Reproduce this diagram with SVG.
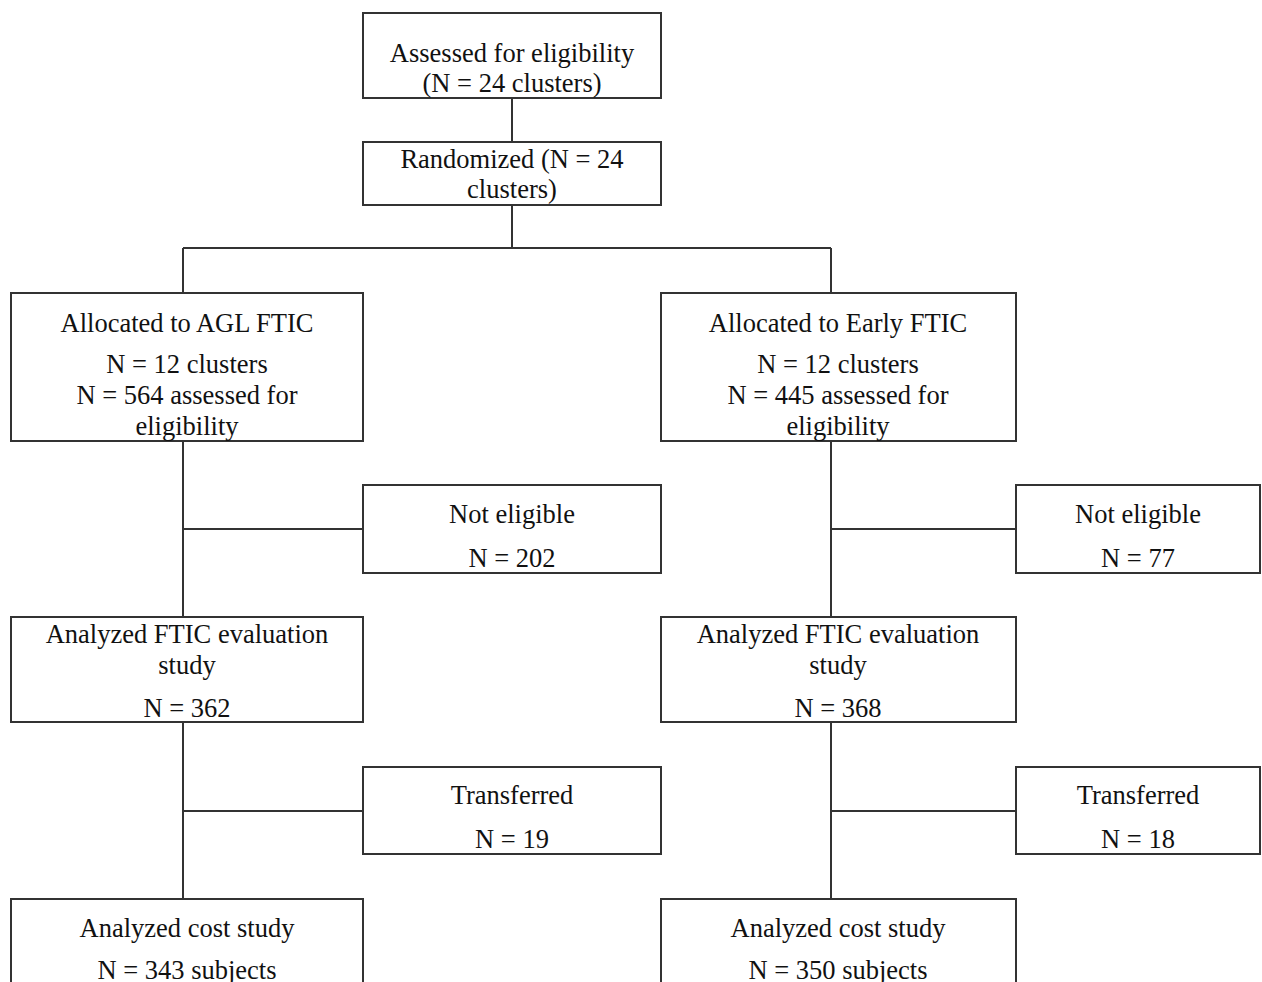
<svg xmlns="http://www.w3.org/2000/svg" width="1262" height="982" viewBox="0 0 1262 982">
<style>
.b{fill:#fff;stroke:#333;stroke-width:2}
.c{fill:none;stroke:#333;stroke-width:2}
text{font-family:"Liberation Serif","Times New Roman",serif;font-size:26.5px;fill:#111;text-anchor:middle}
</style>
<rect width="1262" height="982" fill="#fff"/>
<g id="connectors">
<path class="c" d="M512 98V142M512 205V248M183 248H831M183 248V293M831 248V293M183 441V899M183 529H363M831 441V899M831 529H1016M183 811H363M831 811H1016"/>
</g>
<g id="n1"><rect class="b" x="363" y="13" width="298" height="85"/><text x="512" y="62">Assessed for eligibility</text><text x="512" y="92">(N = 24 clusters)</text></g>
<g id="n2"><rect class="b" x="363" y="142" width="298" height="63"/><text x="512" y="168">Randomized (N = 24</text><text x="512" y="198">clusters)</text></g>
<g id="n3"><rect class="b" x="11" y="293" width="352" height="148"/><text x="187" y="332">Allocated to AGL FTIC</text><text x="187" y="373">N = 12 clusters</text><text x="187" y="404">N = 564 assessed for</text><text x="187" y="435">eligibility</text></g>
<g id="n4"><rect class="b" x="661" y="293" width="355" height="148"/><text x="838" y="332">Allocated to Early FTIC</text><text x="838" y="373">N = 12 clusters</text><text x="838" y="404">N = 445 assessed for</text><text x="838" y="435">eligibility</text></g>
<g id="n5"><rect class="b" x="363" y="485" width="298" height="88"/><text x="512" y="523">Not eligible</text><text x="512" y="567">N = 202</text></g>
<g id="n6"><rect class="b" x="1016" y="485" width="244" height="88"/><text x="1138" y="523">Not eligible</text><text x="1138" y="567">N = 77</text></g>
<g id="n7"><rect class="b" x="11" y="617" width="352" height="105"/><text x="187" y="643">Analyzed FTIC evaluation</text><text x="187" y="674">study</text><text x="187" y="717">N = 362</text></g>
<g id="n8"><rect class="b" x="661" y="617" width="355" height="105"/><text x="838" y="643">Analyzed FTIC evaluation</text><text x="838" y="674">study</text><text x="838" y="717">N = 368</text></g>
<g id="n9"><rect class="b" x="363" y="767" width="298" height="87"/><text x="512" y="804">Transferred</text><text x="512" y="848">N = 19</text></g>
<g id="n10"><rect class="b" x="1016" y="767" width="244" height="87"/><text x="1138" y="804">Transferred</text><text x="1138" y="848">N = 18</text></g>
<g id="n11"><rect class="b" x="11" y="899" width="352" height="100"/><text x="187" y="937">Analyzed cost study</text><text x="187" y="979">N = 343 subjects</text></g>
<g id="n12"><rect class="b" x="661" y="899" width="355" height="100"/><text x="838" y="937">Analyzed cost study</text><text x="838" y="979">N = 350 subjects</text></g>
</svg>
